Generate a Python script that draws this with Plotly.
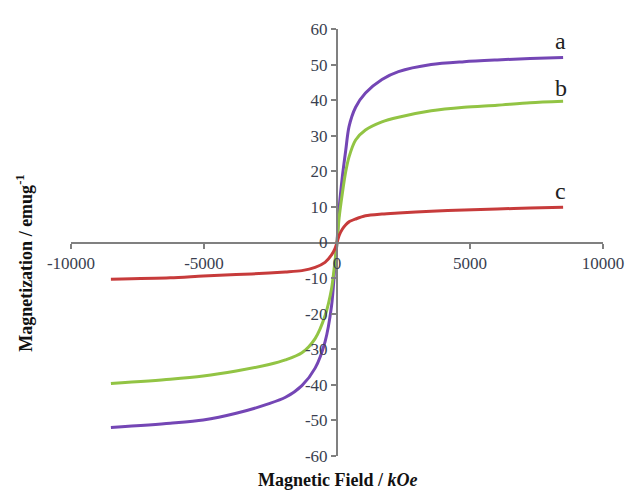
import plotly.graph_objects as go

# Magnetic field (Oe) sample points
field = [-8500, -6270, -5030, -3790, -2555, -1937, -1320, -823, -450, -205, -80, 0,
         80, 204, 330, 450, 700, 1070, 1690, 2310, 3540, 4780, 6020, 7260, 8500]

mag_a = [-52.0, -50.8, -49.9, -48.0, -45.3, -43.5, -40.2, -35.3, -27.9, -17.8, -6.8, 0.0,
         9.5, 18.7, 26.0, 32.5, 38.0, 42.0, 45.8, 48.0, 50.0, 50.8, 51.3, 51.7, 52.0]
mag_b = [-39.6, -38.4, -37.5, -36.1, -34.3, -33.0, -31.0, -27.0, -20.6, -13.0, -5.5, 0.0,
         7.0, 14.0, 20.0, 24.0, 28.8, 31.6, 33.9, 35.2, 37.0, 38.0, 38.6, 39.3, 39.7]
mag_c = [-10.3, -9.9, -9.4, -9.0, -8.6, -8.3, -7.9, -7.0, -5.6, -3.5, -1.8, 0.0,
         2.0, 3.8, 5.0, 5.8, 6.6, 7.5, 8.0, 8.3, 8.8, 9.1, 9.4, 9.7, 9.9]

series_names = ["a", "b", "c"]
series_colors = ["#7446b5", "#92c444", "#c73b3b"]

x_tickvals = [-10000, -5000, 0, 5000, 10000]
x_ticktext = ["-10000", "-5000", "0", "5000", "10000"]
y_tickvals = [-60, -50, -40, -30, -20, -10, 0, 10, 20, 30, 40, 50, 60]
y_ticktext = ["-60", "-50", "-40", "-30", "-20", "-10", "0", "10", "20", "30", "40", "50", "60"]

label_pos = [(8420, 56.7), (8420, 43.5), (8420, 14.6)]

fig = go.Figure()
for name, ys, col in zip(series_names, [mag_a, mag_b, mag_c], series_colors):
    fig.add_trace(go.Scatter(x=field, y=ys, mode="lines", name=name,
                             line=dict(color=col, width=3, shape="spline", smoothing=0.8)))

for name, (lx, ly) in zip(series_names, label_pos):
    fig.add_annotation(x=lx, y=ly, text=name, showarrow=False,
                       font=dict(family="Liberation Serif", size=24, color="#222222"))

tick_font = dict(family="Liberation Serif", size=17, color="#3a3f50")

# page body has an 8px default margin, so the figure is sized to fit the window
fig.update_layout(
    width=628, height=485,
    margin=dict(l=63, r=26, t=12, b=37),
    paper_bgcolor="white", plot_bgcolor="white",
    showlegend=False,
    xaxis=dict(range=[-10000, 10000], anchor="free", position=0.5,
               showgrid=False, zeroline=False, showline=True,
               linecolor="#808080", linewidth=2,
               ticks="outside", ticklen=5, tickwidth=2, tickcolor="#808080",
               tickvals=x_tickvals, ticktext=x_ticktext, tickfont=tick_font),
    yaxis=dict(range=[-60, 60], anchor="free", position=0.5,
               showgrid=False, zeroline=False, showline=True,
               linecolor="#808080", linewidth=2,
               ticks="outside", ticklen=5, tickwidth=2, tickcolor="#808080",
               tickvals=y_tickvals, ticktext=y_ticktext, tickfont=tick_font),
)

fig.add_annotation(xref="paper", yref="paper", x=0.5, y=0, yshift=-24,
                   xanchor="center", yanchor="middle",
                   text="<b>Magnetic Field / <i>kOe</i></b>", showarrow=False,
                   font=dict(family="Liberation Serif", size=18, color="#111111"))
fig.add_annotation(xref="paper", yref="paper", x=0, xshift=-46, y=0.45,
                   xanchor="center", yanchor="middle",
                   text="<b>Magnetization / emug<sup>-1</sup></b>", showarrow=False,
                   textangle=-90,
                   font=dict(family="Liberation Serif", size=18, color="#111111"))

fig.write_html("out.html")
